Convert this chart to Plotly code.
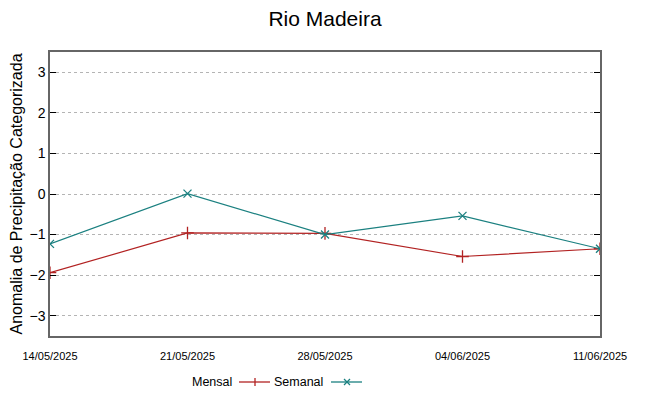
import plotly.graph_objects as go

dates = ["2025-05-14", "2025-05-21", "2025-05-28", "2025-06-04", "2025-06-11"]
tick_labels = ["14/05/2025", "21/05/2025", "28/05/2025", "04/06/2025", "11/06/2025"]
mensal = [-1.94, -0.96, -0.97, -1.54, -1.35]
semanal = [-1.23, 0.01, -1.0, -0.54, -1.35]

RED = "#b22222"
TEAL = "#1b8080"
REG = "Liberation Sans, Arial, sans-serif"

fig = go.Figure()
fig.add_trace(go.Scatter(x=dates, y=mensal, mode="lines+markers", name="Mensal",
                         line=dict(color=RED, width=1.2),
                         marker=dict(symbol="cross-thin", size=9, line=dict(color=RED, width=1.3)),
                         showlegend=False))
fig.add_trace(go.Scatter(x=dates, y=semanal, mode="lines+markers", name="Semanal",
                         line=dict(color=TEAL, width=1.2),
                         marker=dict(symbol="x-thin", size=8, line=dict(color=TEAL, width=1.3)),
                         showlegend=False))

fig.update_layout(
    width=648, height=396,
    margin=dict(l=50, r=48, t=52, b=60, autoexpand=False),
    paper_bgcolor="white", plot_bgcolor="white",
    title=dict(text="Rio Madeira", x=0.5, xref="paper", xanchor="center", y=0.952, yanchor="middle",
               font=dict(family=REG, size=21, color="black")),
    font=dict(family=REG, color="black"),
)
fig.update_xaxes(
    type="date", range=[dates[0], dates[-1]],
    tickvals=dates, ticktext=tick_labels,
    tickfont=dict(family=REG, size=11, color="black"),
    showgrid=False, zeroline=False, automargin=False,
    showline=True, linecolor="#666666", linewidth=1.5, mirror=True,
    ticks="", ticklabelstandoff=9,
)
fig.update_yaxes(
    range=[-3.5, 3.5], tickvals=[-3, -2, -1, 0, 1, 2, 3],
    tickfont=dict(family=REG, size=14, color="black"),
    showgrid=True, gridcolor="#b4b4b4", griddash="dot", gridwidth=1,
    zeroline=False, automargin=False,
    showline=True, linecolor="#666666", linewidth=1.5, mirror="ticks",
    ticks="inside", ticklen=6, tickcolor="black",
    title=dict(text="Anomalia de Precipitação Categorizada", font=dict(family=REG, size=16, color="black"), standoff=3),
)

def px(x):
    return (x - 50) / 550

def py(y):
    return (336 - y) / 284

ypx = 382
fig.add_annotation(xref="paper", yref="paper", x=px(234), y=py(ypx), text="Mensal",
                   showarrow=False, xanchor="right", yanchor="middle", xshift=0,
                   font=dict(family=REG, size=12.5, color="black"))
fig.add_annotation(xref="paper", yref="paper", x=px(325), y=py(ypx), text="Semanal",
                   showarrow=False, xanchor="right", yanchor="middle",
                   font=dict(family=REG, size=12.5, color="black"))

fig.add_shape(type="line", xref="paper", yref="paper", x0=px(239), x1=px(270), y0=py(ypx), y1=py(ypx),
              line=dict(color=RED, width=1.3))
fig.add_shape(type="line", xref="paper", yref="paper", x0=px(255), x1=px(255), y0=py(ypx - 4), y1=py(ypx + 4),
              line=dict(color=RED, width=1.3))
fig.add_shape(type="line", xref="paper", yref="paper", x0=px(331), x1=px(362), y0=py(ypx), y1=py(ypx),
              line=dict(color=TEAL, width=1.3))
fig.add_shape(type="line", xref="paper", yref="paper", x0=px(344), x1=px(350), y0=py(ypx - 3), y1=py(ypx + 3),
              line=dict(color=TEAL, width=1.2))
fig.add_shape(type="line", xref="paper", yref="paper", x0=px(344), x1=px(350), y0=py(ypx + 3), y1=py(ypx - 3),
              line=dict(color=TEAL, width=1.2))

fig.write_html("out.html", config={"displayModeBar": False},
               post_script="document.body.style.margin='0';document.body.style.overflow='hidden';")
